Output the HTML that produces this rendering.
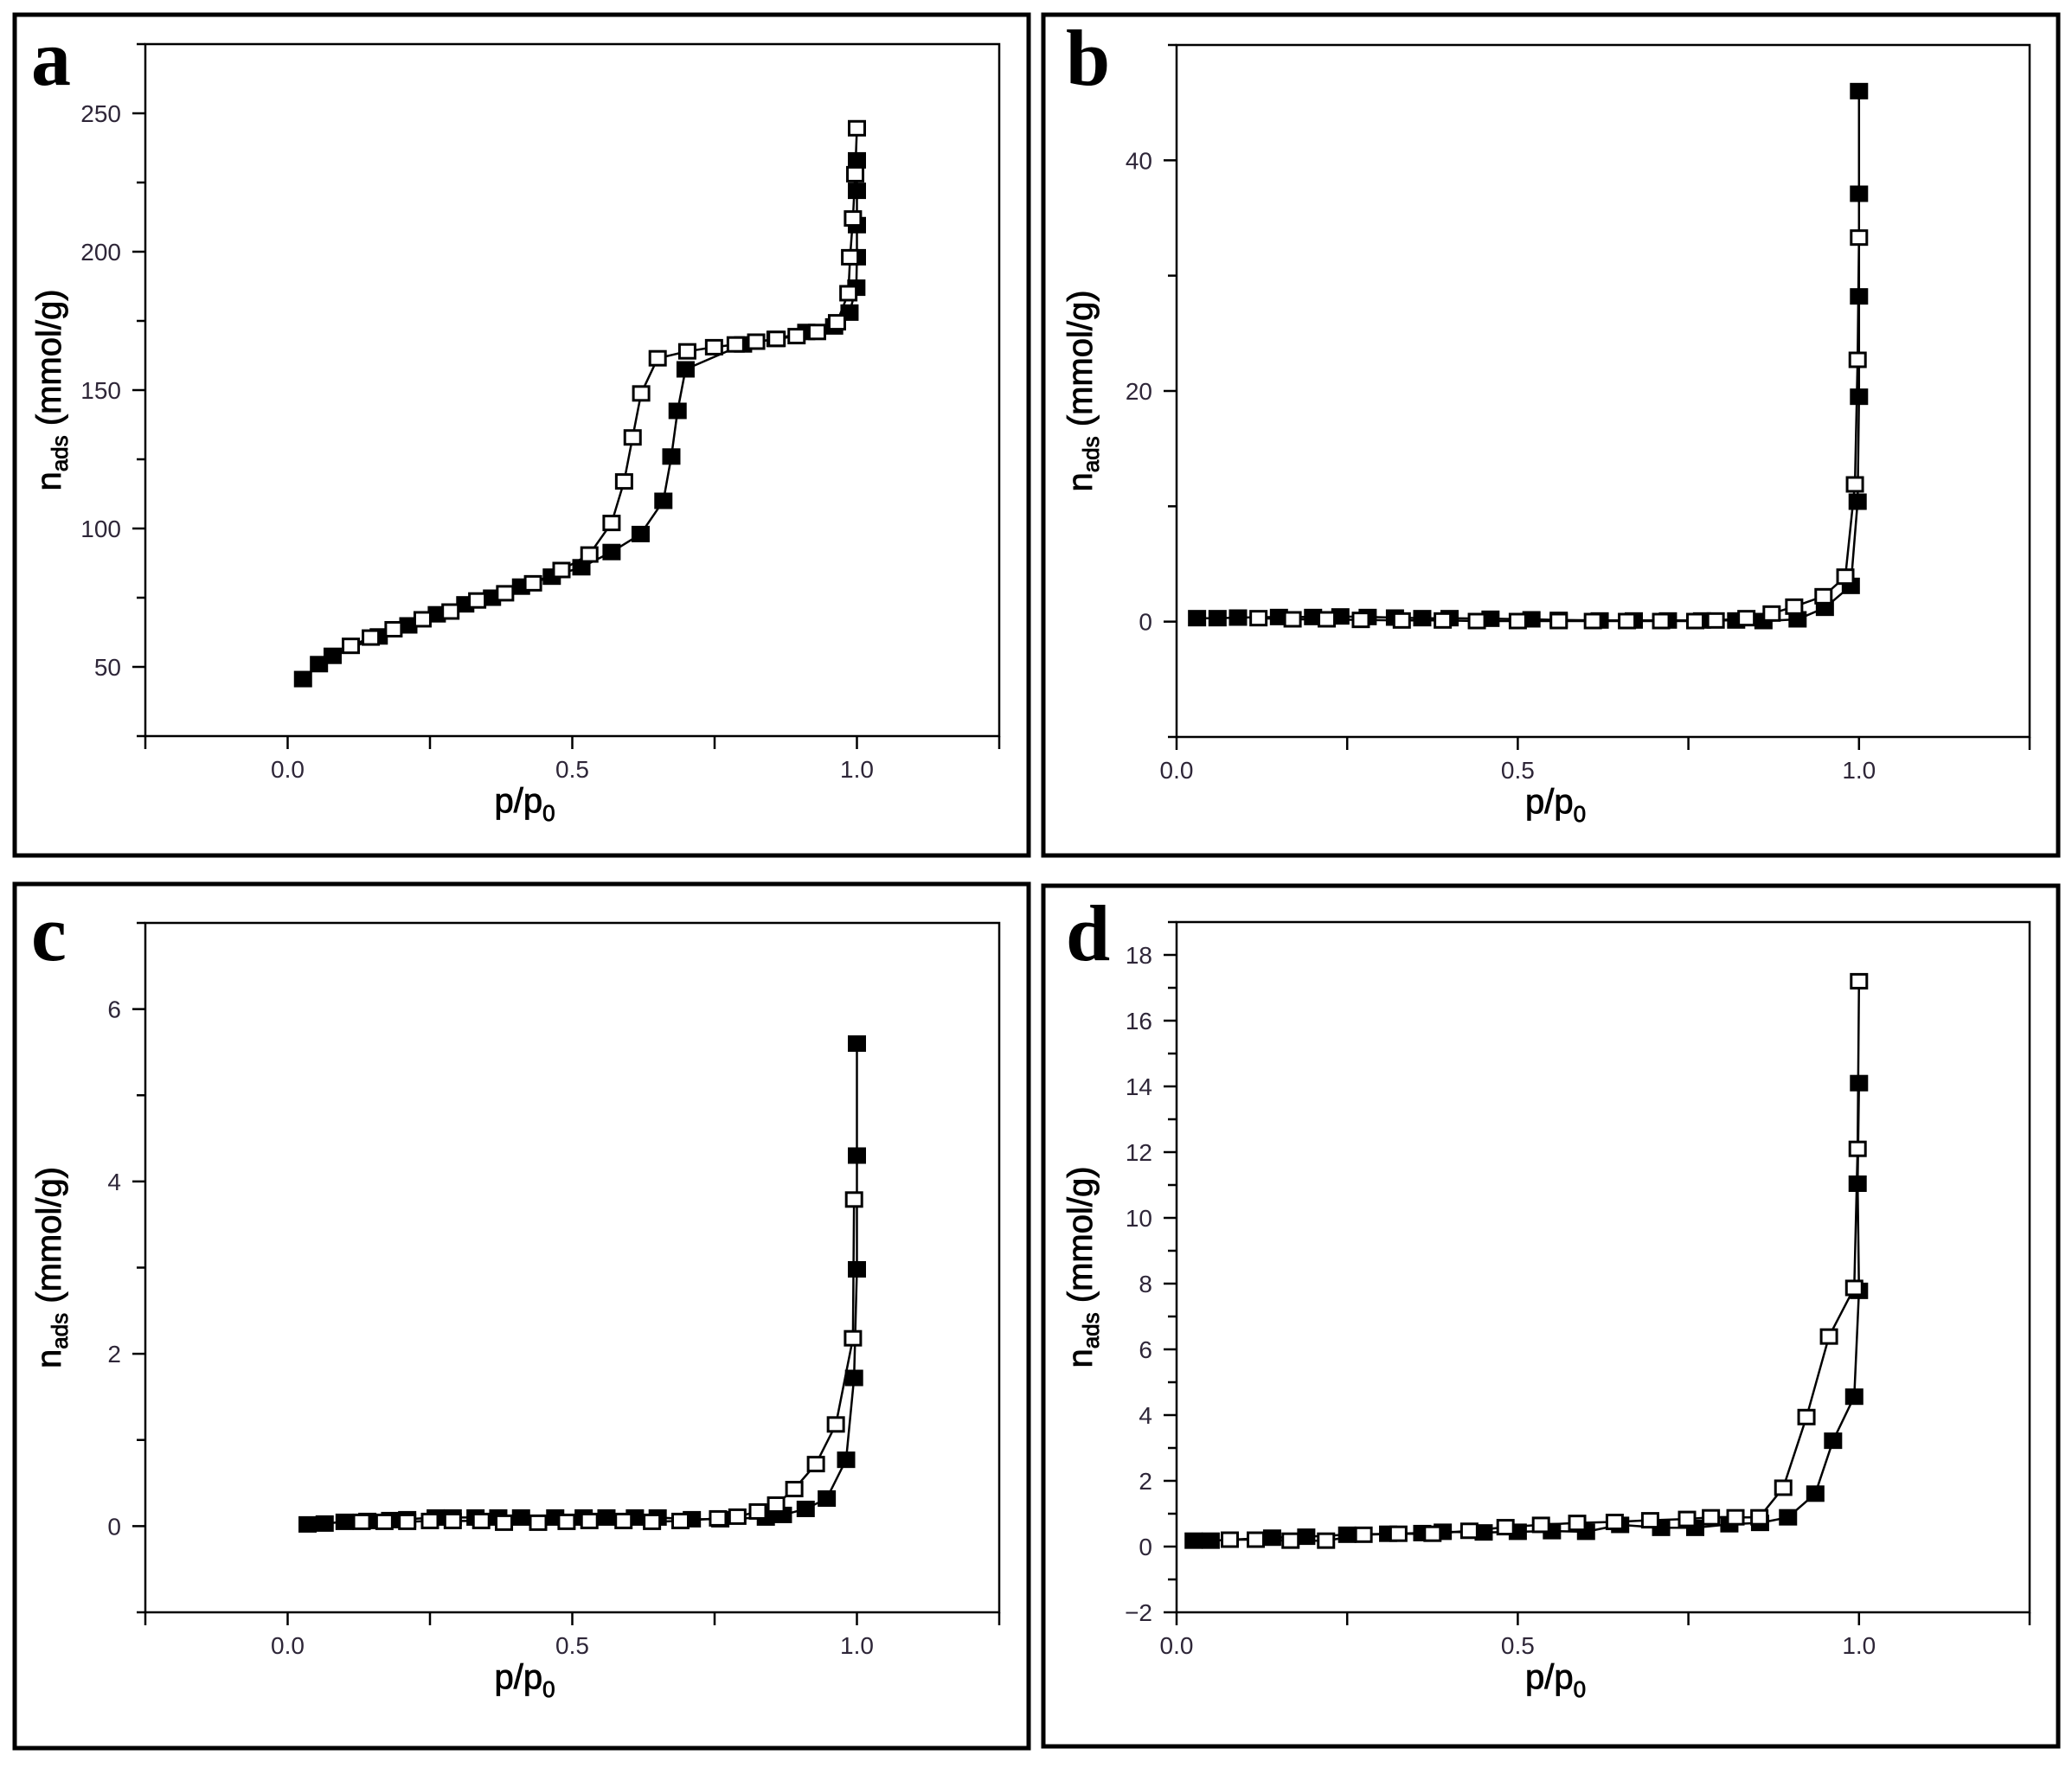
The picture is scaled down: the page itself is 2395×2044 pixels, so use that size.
<!DOCTYPE html>
<html><head><meta charset="utf-8"><style>
html,body{margin:0;padding:0;background:#fff;}
svg{display:block;}
text{font-family:"Liberation Sans",Arial,sans-serif;}
</style></head><body>
<svg id="fig" width="2395" height="2044" viewBox="0 0 2395 2044" xmlns="http://www.w3.org/2000/svg"></svg>
<script>
// Panel a data
const aAdsX=[0.027,0.055,0.079,0.16,0.212,0.262,0.312,0.359,0.41,0.464,0.516,0.569,0.62,0.66,0.674,0.685,0.699,0.80,0.857,0.911,0.96,0.987,0.999,1.0,1.0,1.0,1.0];
const aAdsY=[45.6,51,54,61,65,69,72.6,75,79,82.6,86,91.5,98,110,126,142.5,157.5,166.5,168.5,171,173,178,187,198,209.6,222,233];
const aDesX=[1.0,0.997,0.993,0.988,0.985,0.965,0.93,0.894,0.859,0.823,0.787,0.749,0.702,0.65,0.621,0.606,0.591,0.569,0.53,0.481,0.431,0.382,0.333,0.286,0.237,0.186,0.146,0.111];
const aDesY=[244.6,228,212,198,185,174.5,171,169.5,168.5,167.5,166.5,165.5,164,161.5,148.8,132.9,117,102,90.6,85,80.2,76.6,74,70,67.2,63.6,60.6,57.6];
// Panel b data
const bAdsX=[0.03,0.06,0.09,0.15,0.2,0.24,0.28,0.32,0.36,0.40,0.46,0.52,0.56,0.62,0.67,0.72,0.77,0.82,0.86,0.91,0.95,0.988,0.998,1.0,1.0,1.0,1.0];
const bAdsY=[0.3,0.3,0.35,0.4,0.4,0.45,0.4,0.35,0.3,0.3,0.25,0.2,0.15,0.1,0.1,0.1,0.1,0.1,0.05,0.2,1.2,3.1,10.4,19.5,28.2,37.1,46];
const bDesX=[1.0,0.998,0.994,0.98,0.948,0.905,0.872,0.835,0.79,0.76,0.71,0.66,0.61,0.56,0.50,0.44,0.39,0.33,0.27,0.22,0.17,0.12];
const bDesY=[33.3,22.7,11.9,3.9,2.2,1.3,0.7,0.3,0.1,0.05,0.05,0.05,0.05,0.05,0.05,0.05,0.1,0.1,0.15,0.2,0.2,0.3];
// Panel c data
const cAdsX=[0.035,0.065,0.1,0.14,0.18,0.21,0.26,0.29,0.33,0.37,0.41,0.47,0.52,0.56,0.61,0.65,0.71,0.76,0.84,0.87,0.91,0.947,0.981,0.995,1.0,1.0,1.0];
const cAdsY=[0.02,0.03,0.05,0.06,0.07,0.08,0.1,0.1,0.1,0.1,0.1,0.1,0.1,0.1,0.1,0.1,0.08,0.08,0.1,0.13,0.2,0.32,0.77,1.72,2.98,4.3,5.6];
const cDesX=[0.995,0.993,0.963,0.928,0.89,0.858,0.826,0.79,0.756,0.69,0.64,0.59,0.53,0.49,0.44,0.38,0.34,0.29,0.25,0.21,0.17,0.13];
const cDesY=[3.79,2.18,1.18,0.72,0.43,0.25,0.17,0.11,0.09,0.06,0.05,0.06,0.06,0.05,0.04,0.04,0.06,0.06,0.06,0.05,0.05,0.05];
// Panel d data
const dAdsX=[0.025,0.05,0.14,0.19,0.25,0.31,0.36,0.39,0.45,0.5,0.55,0.6,0.65,0.71,0.76,0.81,0.855,0.896,0.936,0.962,0.993,1.0,0.998,1.0];
const dAdsY=[0.18,0.18,0.27,0.3,0.36,0.39,0.41,0.45,0.43,0.45,0.47,0.45,0.66,0.57,0.57,0.68,0.72,0.89,1.61,3.22,4.56,7.78,11.04,14.1];
const dDesX=[1.0,0.998,0.993,0.956,0.923,0.889,0.854,0.819,0.783,0.748,0.694,0.642,0.587,0.534,0.482,0.429,0.375,0.325,0.274,0.219,0.167,0.116,0.078];
const dDesY=[17.2,12.1,7.87,6.39,3.94,1.79,0.89,0.89,0.89,0.84,0.8,0.75,0.72,0.66,0.59,0.48,0.39,0.39,0.36,0.18,0.18,0.21,0.21];
// axis ticks
const aYLabels=[50,100,150,200,250];
const bYLabels=[0,20,40];
const cYLabels=[0,2,4,6];
const dYLabels=[-2,0,2,4,6,8,10,12,14,16,18];
const xLabelsAC=[0.0,0.5,1.0];
const xLabelsBD=[0.0,0.5,1.0];

const NS="http://www.w3.org/2000/svg";
const svg=document.getElementById('fig');
function mk(tag,attrs,parent){const e=document.createElementNS(NS,tag);for(const k in attrs)e.setAttribute(k,attrs[k]);(parent||svg).appendChild(e);return e;}

function panel(cfg){
  const g=mk('g',{});
  
  
  const fr=mk('rect',{x:cfg.frame[0],y:cfg.frame[1],width:cfg.frame[2]-cfg.frame[0],height:cfg.frame[3]-cfg.frame[1],fill:'none',stroke:'#000','stroke-width':5},g);
  
  
  const lt=mk('text',{x:cfg.letter[0],y:cfg.letter[1],style:'font-family:"Liberation Serif",serif;font-size:92px;font-weight:bold;'},g);
  lt.textContent=cfg.id;
  
  
  const [L,T,R,B]=cfg.plot;
  const sx=v=>L+(v-cfg.xr[0])/(cfg.xr[1]-cfg.xr[0])*(R-L);
  const sy=v=>B-(v-cfg.yr[0])/(cfg.yr[1]-cfg.yr[0])*(B-T);
  const box=mk('rect',{x:L,y:T,width:R-L,height:B-T,fill:'none',stroke:'#000','stroke-width':2.5},g);
  
  
  for(let v=cfg.yr[0];v<=cfg.yr[1]+1e-9;v+=cfg.yMinor){
    const major=cfg.yLabels.some(l=>Math.abs(l-v)<1e-9);
    const t=mk('line',{x1:L-(major?15:10),x2:L,y1:sy(v),y2:sy(v),stroke:'#000','stroke-width':2.5},g);
    
    
  }
  cfg.yLabels.forEach(v=>{
    const t=mk('text',{x:L-28,y:sy(v)+10,'font-size':28,'text-anchor':'end',fill:'#2e2638'},g);
    t.textContent=v<0?'\u2212'+Math.abs(v):String(v);
    
    
  });
  for(let v=cfg.xr[0];v<=cfg.xr[1]+1e-9;v+=0.25){
    const t=mk('line',{x1:sx(v),x2:sx(v),y1:B,y2:B+15,stroke:'#000','stroke-width':2.5},g);
    
    
  }
  cfg.xLabels.forEach(v=>{
    const t=mk('text',{x:sx(v),y:B+48,'font-size':28,'text-anchor':'middle',fill:'#2e2638'},g);
    t.textContent=v.toFixed(1);
    
    
  });
  const xt=mk('text',{x:(L+R)/2-55,y:B+88,'font-size':40,'text-anchor':'middle',stroke:'#000','stroke-width':0.8},g);
  xt.innerHTML='p/p<tspan font-size="26" dy="10">0</tspan>';
  
  
  const cy=(T+B)/2;
  const yt=mk('text',{x:0,y:0,'font-size':40,'text-anchor':'middle',stroke:'#000','stroke-width':0.8,transform:`translate(${L-98},${cy}) rotate(-90)`},g);
  yt.innerHTML='n<tspan font-size="26" dy="8">ads</tspan><tspan dy="-8"> (mmol/g)</tspan>';
  
  
  function series(xs,ys,filled,name){
    const pts=xs.map((x,i)=>sx(x).toFixed(1)+','+sy(ys[i]).toFixed(1)).join(' ');
    const pl=mk('polyline',{points:pts,fill:'none',stroke:'#000','stroke-width':2.5},g);
    
    
    xs.forEach((x,i)=>{
      const r=mk('rect',{x:sx(x)-9,y:sy(ys[i])-8,width:18,height:16,fill:filled?'#000':'#fff',stroke:'#000','stroke-width':3},g);
      
      
    });
  }
  series(cfg.ads[0],cfg.ads[1],true,'adsorption');
  series(cfg.des[0],cfg.des[1],false,'desorption');
}

panel({id:'a',frame:[17,17,1189,989],letter:[36,98],plot:[168,51,1155,851],xr:[-0.25,1.25],yr:[25,275],yMinor:25,yLabels:aYLabels,xLabels:xLabelsAC,ads:[aAdsX,aAdsY],des:[aDesX,aDesY]});
panel({id:'b',frame:[1206,17,2379,989],letter:[1232,98],plot:[1360,52,2346,852],xr:[0,1.25],yr:[-10,50],yMinor:10,yLabels:bYLabels,xLabels:xLabelsBD,ads:[bAdsX,bAdsY],des:[bDesX,bDesY]});
panel({id:'c',frame:[17,1022,1189,2021],letter:[36,1110],plot:[168,1067,1155,1864],xr:[-0.25,1.25],yr:[-1,7],yMinor:1,yLabels:cYLabels,xLabels:xLabelsAC,ads:[cAdsX,cAdsY],des:[cDesX,cDesY]});
panel({id:'d',frame:[1206,1024,2379,2019],letter:[1232,1110],plot:[1360,1066,2346,1864],xr:[0,1.25],yr:[-2,19],yMinor:1,yLabels:dYLabels,xLabels:xLabelsBD,ads:[dAdsX,dAdsY],des:[dDesX,dDesY]});
</script>
</body></html>
